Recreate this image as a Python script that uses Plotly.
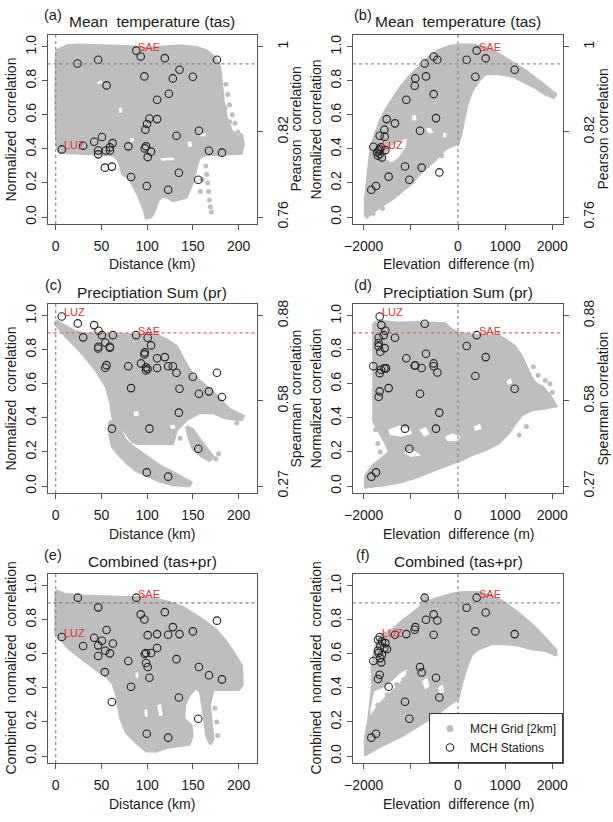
import plotly.graph_objects as go

W, H = 613, 822
GREY = "#BEBEBE"
RED = "#e0342f"
AXC = "#555555"
TXT = "#1a1a1a"
FONT = "Liberation Sans, Arial, Helvetica, sans-serif"

# ---------------- tick labels ----------------
Y_TICKS = [0.0, 0.2, 0.4, 0.6, 0.8, 1.0]
Y_TICKTEXT = ["0.0", "0.2", "0.4", "0.6", "0.8", "1.0"]
DIST_TICKS = [0, 50, 100, 150, 200]
DIST_TICKTEXT = ["0", "50", "100", "150", "200"]
ELEV_TICKS = [-2000, -1000, 0, 1000, 2000]
ELEV_TICKTEXT = ["\u22122000", "", "0", "1000", "2000"]
RIGHT_TICKS = [0.0, 0.5, 1.0]
PEARSON_TICKTEXT = ["0.76", "0.82", "1"]
SPEARMAN_TICKTEXT = ["0.27", "0.58", "0.88"]

# ---------------- panel (a) ----------------
A_ST_X = [6.6, 23.8, 46.4, 55.6, 30.0, 42.0, 50.5, 62.2, 46.4, 46.4, 54.8, 59.2, 59.2, 53.7, 61.4, 79.3, 82.3,
          88.1, 92.9, 96.9, 98.0, 99.8, 102.4, 98.7, 97.3, 104.2, 100.5, 99.5, 110.8, 110.8, 119.2, 122.9,
          123.6, 128.0, 132.0, 134.6, 135.3, 149.9, 156.5, 155.8, 167.5, 176.2, 181.7]
A_ST_Y = [0.397, 0.902, 0.924, 0.773, 0.419, 0.442, 0.470, 0.434, 0.391, 0.368, 0.391, 0.391, 0.409, 0.290,
          0.296, 0.415, 0.235, 0.977, 0.943, 0.826, 0.513, 0.546, 0.579, 0.415, 0.403, 0.384, 0.352, 0.182,
          0.689, 0.575, 0.933, 0.160, 0.724, 0.814, 0.477, 0.260, 0.865, 0.824, 0.507, 0.219, 0.389, 0.924, 0.378]
A_GRID_X = [0.7, 5.5, 12.8, 25.6, 62, 84, 98.7, 110, 135, 153.6, 164.5, 173.7, 179, 181, 183, 186.5, 192, 199,
            203, 205, 203, 186, 164.5, 157, 153.6, 150, 146, 142.6, 135, 128, 122.5, 117, 111.5, 108, 104,
            98.7, 97, 93, 89.6, 84, 78.6, 73, 71, 67.6, 62, 44, 25.6, 11, 3.7, 1.8, 0.7, 0, 0]
A_GRID_Y = [0.977, 0.99, 1.006, 1.01, 1.006, 1.0, 0.99, 0.996, 1.006, 0.996, 0.977, 0.937, 0.888, 0.8, 0.683,
            0.585, 0.507, 0.468, 0.487, 0.43, 0.374, 0.37, 0.366, 0.35, 0.29, 0.21, 0.155, 0.115, 0.106, 0.096,
            0.115, 0.125, 0.096, 0.037, 0.0, -0.006, 0.037, 0.096, 0.135, 0.194, 0.233, 0.252, 0.30, 0.34,
            0.366, 0.37, 0.374, 0.38, 0.38, 0.41, 0.487, 0.683, 0.879]
A_HOLES = [([45, 50, 51, 46], [0.795, 0.80, 0.785, 0.78]),
           ([69, 72, 72.5, 69.5], [0.64, 0.645, 0.615, 0.61]),
           ([114, 128, 130, 116], [0.345, 0.35, 0.335, 0.33]),
           ([144, 148, 149, 145], [0.44, 0.445, 0.415, 0.41]),
           ([157, 164, 164, 158], [0.49, 0.49, 0.475, 0.475]),
           ([81, 85, 85.5, 81.5], [0.46, 0.465, 0.445, 0.44])]
A_STRAY_X = [186, 188, 190, 193, 196, 199, 201, 190, 185, 164, 165, 166, 167, 168, 169, 170, 160, 158]
A_STRAY_Y = [0.78, 0.72, 0.66, 0.6, 0.55, 0.5, 0.45, 0.56, 0.64, 0.3, 0.25, 0.2, 0.15, 0.1, 0.06, 0.03, 0.22, 0.15]
A_LUZ = (6.6, 0.397)
A_SAE = (88.1, 0.977)

# ---------------- panel (b) ----------------
B_ST_X = [-1661, -1796, -1661, -1562, -1555, -1513, -1336, -1683, -1661, -1612, -1633, -1541, -1718, -1697,
          -1838, -1739, -1471, -1124, -1032, -1096, -919, -905, -679, -707, -806, -771, -516, -438, -516,
          -467, -396, 184, 396, 368, 587, 1202]
B_ST_Y = [0.397, 0.413, 0.477, 0.513, 0.472, 0.575, 0.550, 0.389, 0.370, 0.350, 0.409, 0.393, 0.380, 0.360,
          0.160, 0.182, 0.237, 0.297, 0.219, 0.689, 0.771, 0.814, 0.826, 0.902, 0.507, 0.290, 0.943, 0.924,
          0.722, 0.581, 0.262, 0.924, 0.977, 0.824, 0.932, 0.865]
B_GRID_X = [-1965, -1965, -1930, -1895, -1860, -1824, -1753, -1647, -1541, -1400, -1223, -1046, -834, -622,
            -410, -198, 14, 297, 580, 862, 1145, 1428, 1711, 1923, 2064,
            2029, 1852, 1640, 1428, 1216, 1004, 792, 580, 438, 297, 191, 120, 49, 0, -127, -269, -410, -551,
            -693, -834, -976, -1188, -1400, -1612, -1824, -1930]
B_GRID_Y = [0.008, 0.096, 0.194, 0.29, 0.37, 0.43, 0.487, 0.566, 0.624, 0.683, 0.761, 0.82, 0.879, 0.937,
            0.977, 1.0, 1.01, 1.01, 0.996, 0.957, 0.908, 0.859, 0.8, 0.751, 0.722,
            0.703, 0.722, 0.761, 0.79, 0.82, 0.836, 0.843, 0.84, 0.8, 0.742, 0.663, 0.566, 0.468, 0.43, 0.419,
            0.4, 0.36, 0.32, 0.29, 0.25, 0.2, 0.155, 0.106, 0.067, 0.027, 0.0]
B_HOLES = [([-1540, -1400, -1220, -1080, -1120, -1260, -1400, -1530], [0.37, 0.42, 0.45, 0.46, 0.41, 0.35, 0.32, 0.34]),
           ([-980, -900, -880, -960], [0.595, 0.60, 0.57, 0.565]),
           ([-680, -580, -520, -620], [0.52, 0.525, 0.495, 0.49]),
           ([-320, -250, -240, -310], [0.49, 0.495, 0.47, 0.465])]
B_STRAY_X = [-800, -650, -500, -350, -1000, -1300, -1700, -1600, 2050, 1950, -1800]
B_STRAY_Y = [0.33, 0.30, 0.34, 0.36, 0.27, 0.20, 0.10, 0.05, 0.72, 0.73, 0.02]
B_LUZ = (-1661, 0.397)
B_SAE = (396, 0.977)

# ---------------- panel (c) ----------------
C_ST_X = [6.6, 24.1, 42.0, 46.8, 50.5, 62.5, 30.0, 54.1, 46.4, 46.4, 59.2, 59.2, 55.6, 54.1, 87.8, 100.5,
          104.2, 97.3, 96.9, 79.3, 93.2, 98.7, 98.7, 100.5, 110.8, 119.2, 110.8, 122.9, 128.0, 132.0, 82.3,
          135.3, 149.9, 156.5, 167.5, 176.2, 181.7, 134.6, 61.4, 102.4, 155.8, 99.5, 122.9]
C_ST_Y = [0.996, 0.955, 0.945, 0.912, 0.886, 0.886, 0.873, 0.843, 0.818, 0.808, 0.818, 0.812, 0.710, 0.695,
          0.886, 0.871, 0.826, 0.785, 0.773, 0.703, 0.720, 0.697, 0.679, 0.687, 0.750, 0.757, 0.693, 0.703,
          0.703, 0.665, 0.575, 0.571, 0.642, 0.542, 0.556, 0.665, 0.523, 0.431, 0.337, 0.337, 0.219, 0.080, 0.055]
C_GRID_X = [0, 10, 20, 30, 60, 90, 110, 121, 132, 137, 143, 150, 161, 172, 179, 190, 205, 203, 186, 172, 157,
            143, 132, 128, 110, 90, 84, 77, 70, 64, 62, 60, 55, 44, 29, 11, 0]
C_GRID_Y = [0.97, 0.94, 0.91, 0.895, 0.89, 0.888, 0.885, 0.86, 0.82, 0.77, 0.71, 0.65, 0.60, 0.55, 0.51, 0.45,
            0.41, 0.39, 0.40, 0.43, 0.43, 0.39, 0.33, 0.25, 0.25, 0.25, 0.26, 0.31, 0.35, 0.38, 0.41, 0.49,
            0.585, 0.68, 0.78, 0.88, 0.95]
C_LOBE_X = [59, 66, 70, 76, 82, 90, 100, 113, 128, 142, 148, 146, 128, 113, 100, 88, 77, 68, 62, 59]
C_LOBE_Y = [0.38, 0.37, 0.33, 0.27, 0.24, 0.21, 0.17, 0.12, 0.08, 0.04, 0.02, 0.0, 0.008, 0.03, 0.06, 0.09,
            0.14, 0.19, 0.23, 0.30]
C_ISLAND_X = [143, 150, 158, 165, 172, 168, 158, 150, 146]
C_ISLAND_Y = [0.35, 0.33, 0.27, 0.22, 0.17, 0.15, 0.18, 0.22, 0.28]
C_HOLES = [([85, 90, 91, 86], [0.435, 0.44, 0.415, 0.41]),
           ([125, 130, 131, 126], [0.355, 0.36, 0.34, 0.335])]
C_STRAY_X = [136, 175, 178, 198]
C_STRAY_Y = [0.28, 0.16, 0.19, 0.37]
C_LUZ = (6.6, 0.996)
C_SAE = (87.8, 0.886)

# ---------------- panel (d) ----------------
D_ST_X = [-1661, -1626, -1541, -1577, -1683, -1683, -1683, -1647, -1555, -1336, -707, -1796, -1661, -1633,
          -1562, -1527, -1471, -1661, -1683, -1096, -919, -905, -771, -679, -516, -516, -438, -806, -396,
          -1124, -467, -1032, -1838, -1739, 184, 396, 587, 368, 1202]
D_ST_Y = [0.996, 0.945, 0.912, 0.886, 0.871, 0.840, 0.820, 0.789, 0.810, 0.871, 0.953, 0.703, 0.663, 0.683,
          0.691, 0.691, 0.575, 0.556, 0.524, 0.750, 0.708, 0.708, 0.693, 0.777, 0.720, 0.703, 0.667, 0.542,
          0.431, 0.337, 0.337, 0.219, 0.055, 0.080, 0.822, 0.886, 0.757, 0.646, 0.571]
D_GRID_X = [-1789, -1683, -1300, -900, -600, -269, -150, 0, 300, 600, 862, 1000, 1200, 1350, 1450, 1550, 1650,
            1800, 1950, 2079, 1852, 1570, 1357, 1216, 1075, 862, 580, 297, 85, -127, -481, -834, -1188,
            -1541, -1965, -1965, -1824, -1612, -1450, -1550, -1700, -1789]
D_GRID_Y = [0.957, 0.967, 0.957, 0.96, 0.957, 0.953, 0.92, 0.9, 0.885, 0.883, 0.879, 0.86, 0.82, 0.76, 0.70,
            0.64, 0.60, 0.58, 0.53, 0.47, 0.458, 0.448, 0.419, 0.37, 0.311, 0.252, 0.213, 0.184, 0.155, 0.135,
            0.096, 0.057, 0.027, 0.008, -0.006, 0.057, 0.115, 0.164, 0.20, 0.26, 0.33, 0.38]
D_HOLES = [([-1480, -1250, -1000, -980, -1200, -1440], [0.33, 0.355, 0.33, 0.305, 0.29, 0.30]),
           ([-820, -680, -600, -720], [0.33, 0.345, 0.305, 0.29]),
           ([-280, -120, 60, -20, -230], [0.29, 0.31, 0.29, 0.265, 0.265]),
           ([-1150, -950, -780, -1000], [0.195, 0.21, 0.18, 0.17]),
           ([1030, 1120, 1150, 1060], [0.615, 0.635, 0.605, 0.595]),
           ([330, 470, 500, 360], [0.35, 0.365, 0.335, 0.325])]
D_STRAY_X = [1700, 1850, 2000, 1950, 1600, -1700, -1600, -1750, -1650, 1300, 1450]
D_STRAY_Y = [0.65, 0.62, 0.55, 0.60, 0.70, 0.25, 0.30, 0.33, 0.20, 0.30, 0.35]
D_LUZ = (-1661, 0.996)
D_SAE = (396, 0.886)

# ---------------- panel (e) ----------------
E_ST_X = [6.6, 24.1, 46.4, 30.0, 42.0, 50.5, 55.6, 46.4, 46.4, 54.1, 59.2, 62.5, 53.7, 61.4, 79.3, 82.3, 88.1,
          92.9, 96.9, 100.5, 110.8, 119.2, 97.3, 98.7, 104.2, 98.7, 100.5, 102.4, 110.8, 122.9, 128.0, 135.3,
          132.0, 149.9, 156.5, 167.5, 181.7, 176.2, 134.6, 155.8, 99.5, 122.9]
E_ST_Y = [0.699, 0.930, 0.873, 0.646, 0.695, 0.677, 0.740, 0.650, 0.587, 0.618, 0.603, 0.661, 0.493, 0.317,
          0.558, 0.407, 0.930, 0.832, 0.802, 0.710, 0.716, 0.845, 0.599, 0.605, 0.605, 0.546, 0.523, 0.460,
          0.634, 0.712, 0.757, 0.716, 0.569, 0.732, 0.523, 0.474, 0.450, 0.795, 0.344, 0.219, 0.131, 0.108]
E_GRID_X = [0, 10, 30, 60, 85, 95, 110, 125, 140, 152, 163, 175, 185, 195, 203, 204, 200, 185, 172, 168, 170,
            172, 169, 165, 162, 158, 153, 146, 141, 140, 148, 149, 146, 135, 121, 110, 99, 88, 77, 71, 68, 66,
            62, 55, 44, 29, 14.6, 0]
E_GRID_Y = [0.97, 0.95, 0.94, 0.935, 0.93, 0.935, 0.92, 0.9, 0.87, 0.83, 0.79, 0.74, 0.68, 0.6, 0.53, 0.42,
            0.39, 0.39, 0.39, 0.3, 0.2, 0.1, 0.07, 0.12, 0.25, 0.38, 0.40, 0.36, 0.3, 0.22, 0.18, 0.12, 0.07,
            0.06, 0.05, 0.03, 0.03, 0.08, 0.14, 0.22, 0.3, 0.37, 0.43, 0.47, 0.51, 0.57, 0.63, 0.72]
E_HOLES = [([111, 115, 117, 113], [0.30, 0.305, 0.24, 0.235]),
           ([87, 90, 90.5, 87.5], [0.49, 0.49, 0.46, 0.46]),
           ([97, 100, 100.5, 97.5], [0.27, 0.275, 0.23, 0.23])]
E_STRAY_X = [186, 190, 194, 176, 174, 180, 177]
E_STRAY_Y = [0.56, 0.53, 0.50, 0.20, 0.28, 0.45, 0.12]
E_LUZ = (6.6, 0.699)
E_SAE = (88.1, 0.930)

# ---------------- panel (f) ----------------
F_ST_X = [-1661, -1697, -1612, -1541, -1647, -1562, -1697, -1683, -1612, -1506, -1796, -1647, -1626, -1661,
          -1697, -1471, -1336, -1096, -919, -905, -707, -679, -516, -438, -516, -806, -771, -467, -396, -1124,
          -1032, -1838, -1739, 184, 396, 587, 368, 1202]
F_ST_Y = [0.699, 0.683, 0.673, 0.663, 0.648, 0.634, 0.618, 0.605, 0.595, 0.628, 0.558, 0.575, 0.550, 0.477,
          0.452, 0.407, 0.712, 0.716, 0.742, 0.757, 0.930, 0.800, 0.832, 0.796, 0.712, 0.523, 0.491, 0.460,
          0.344, 0.319, 0.219, 0.108, 0.131, 0.871, 0.930, 0.843, 0.732, 0.716]
F_GRID_X = [-1965, -1965, -1930, -1890, -1850, -1810, -1824, -1789, -1718, -1612, -1400, -1188, -905, -780,
            -720, -622, -339, -127, 85, 438, 721, 1004, 1287, 1570, 1852, 2079,
            2029, 1852, 1570, 1287, 1004, 721, 438, 297, 191, 85, 0, -198, -481, -834, -1188, -1612, -1965]
F_GRID_Y = [0.0, 0.1, 0.16, 0.22, 0.32, 0.416, 0.51, 0.59, 0.67, 0.71, 0.74, 0.79, 0.85, 0.88, 0.95, 0.91,
            0.935, 0.95, 0.96, 0.96, 0.94, 0.896, 0.837, 0.77, 0.69, 0.62,
            0.60, 0.62, 0.63, 0.65, 0.66, 0.66, 0.63, 0.60, 0.533, 0.435, 0.337, 0.30, 0.24, 0.18, 0.12, 0.063,
            0.008]
F_HOLES = [([-1860, -1780, -1600, -1400, -1200, -1080, -1120, -1300, -1500, -1680, -1860],
            [0.27, 0.38, 0.40, 0.44, 0.49, 0.51, 0.47, 0.41, 0.36, 0.31, 0.24]),
           ([-760, -660, -600, -700], [0.44, 0.46, 0.41, 0.39]),
           ([-430, -330, -290, -390], [0.40, 0.42, 0.38, 0.365])]
F_STRAY_X = [2060, -1500, -1300, -1150, -1700]
F_STRAY_Y = [0.60, 0.36, 0.42, 0.45, 0.30]
F_LUZ = (-1661, 0.699)
F_SAE = (396, 0.930)

# ---------------- geometry ----------------
COL_DOM = [[47.5 / W, 257 / W], [353 / W, 563 / W]]
ROW_PX = [(35, 224), (304, 493), (574, 763)]
ROW_DOM = [[1 - b / H, 1 - t / H] for t, b in ROW_PX]
DIST_RANGE = [-9.0, 220.0]
ELEV_RANGE = [-2227, 2227]
Y_RANGE = [-0.041, 1.069]

panels = [
    dict(grid=[(A_GRID_X, A_GRID_Y)], holes=A_HOLES, stray=(A_STRAY_X, A_STRAY_Y), st=(A_ST_X, A_ST_Y),
         luz=A_LUZ, sae=A_SAE, kind="dist", right=PEARSON_TICKTEXT, letter="(a)",
         title="Mean  temperature (tas)", ytitle="Normalized  correlation", rtitle="Pearson  correlation",
         hcol="#8c8080"),
    dict(grid=[(B_GRID_X, B_GRID_Y)], holes=B_HOLES, stray=(B_STRAY_X, B_STRAY_Y), st=(B_ST_X, B_ST_Y),
         luz=B_LUZ, sae=B_SAE, kind="elev", right=PEARSON_TICKTEXT, letter="(b)",
         title="Mean  temperature (tas)", ytitle="Normalized correlation", rtitle="Pearson correlation",
         hcol="#b08484"),
    dict(grid=[(C_GRID_X, C_GRID_Y), (C_LOBE_X, C_LOBE_Y), (C_ISLAND_X, C_ISLAND_Y)], holes=C_HOLES,
         stray=(C_STRAY_X, C_STRAY_Y), st=(C_ST_X, C_ST_Y), luz=C_LUZ, sae=C_SAE, kind="dist",
         right=SPEARMAN_TICKTEXT, letter="(c)", title="Preciptiation Sum (pr)",
         ytitle="Normalized  correlation", rtitle="Spearman  correlation", hcol="#d86a6a"),
    dict(grid=[(D_GRID_X, D_GRID_Y)], holes=D_HOLES, stray=(D_STRAY_X, D_STRAY_Y), st=(D_ST_X, D_ST_Y),
         luz=D_LUZ, sae=D_SAE, kind="elev", right=SPEARMAN_TICKTEXT, letter="(d)",
         title="Preciptiation Sum (pr)", ytitle="Normalized correlation", rtitle="Spearman correlation",
         hcol="#d86a6a"),
    dict(grid=[(E_GRID_X, E_GRID_Y)], holes=E_HOLES, stray=(E_STRAY_X, E_STRAY_Y), st=(E_ST_X, E_ST_Y),
         luz=E_LUZ, sae=E_SAE, kind="dist", right=None, letter="(e)", title="Combined (tas+pr)",
         ytitle="Combined  normalized  correlation", rtitle=None, hcol="#7a7a7a"),
    dict(grid=[(F_GRID_X, F_GRID_Y)], holes=F_HOLES, stray=(F_STRAY_X, F_STRAY_Y), st=(F_ST_X, F_ST_Y),
         luz=F_LUZ, sae=F_SAE, kind="elev", right=None, letter="(f)", title="Combined (tas+pr)",
         ytitle="Combined  normalized  correlation", rtitle=None, hcol="#a08a8a"),
]


def sfx(n):
    return "" if n == 1 else str(n)


def p2x(px):
    return px / W


def p2y(py):
    return 1 - py / H


fig = go.Figure()
layout = dict(width=W, height=H, margin=dict(l=0, r=0, t=0, b=0), paper_bgcolor="white",
              plot_bgcolor="white", font=dict(family=FONT, size=14, color=TXT), showlegend=True)
annotations = []
shapes = []
right_id = 7

for i, p in enumerate(panels, start=1):
    col = (i - 1) % 2
    row = (i - 1) // 2
    xa, ya = "x" + sfx(i), "y" + sfx(i)
    for gx, gy in p["grid"]:
        fig.add_trace(go.Scatter(x=gx + [gx[0]], y=gy + [gy[0]], mode="lines", fill="toself",
                                 fillcolor=GREY, line=dict(color=GREY, width=3), hoverinfo="skip",
                                 showlegend=False, xaxis=xa, yaxis=ya))
    for hx, hy in p["holes"]:
        fig.add_trace(go.Scatter(x=hx + [hx[0]], y=hy + [hy[0]], mode="lines", fill="toself",
                                 fillcolor="white", line=dict(color="white", width=0), hoverinfo="skip",
                                 showlegend=False, xaxis=xa, yaxis=ya))
    sx, sy = p["stray"]
    fig.add_trace(go.Scatter(x=sx, y=sy, mode="markers", marker=dict(color=GREY, size=5),
                             hoverinfo="skip", showlegend=False, xaxis=xa, yaxis=ya))
    stx, sty = p["st"]
    fig.add_trace(go.Scatter(x=stx, y=sty, mode="markers",
                             marker=dict(symbol="circle-open", color="#222222", size=7.5,
                                         line=dict(width=1.1, color="#222222")),
                             hoverinfo="skip", showlegend=False, xaxis=xa, yaxis=ya))

    dist = p["kind"] == "dist"
    layout["xaxis" + sfx(i)] = dict(
        domain=COL_DOM[col], anchor=ya, range=DIST_RANGE if dist else ELEV_RANGE,
        tickmode="array", tickvals=DIST_TICKS if dist else ELEV_TICKS,
        ticktext=DIST_TICKTEXT if dist else ELEV_TICKTEXT,
        ticks="outside", ticklen=5, tickcolor=AXC, showline=True, mirror=True, linecolor=AXC,
        linewidth=1, showgrid=False, zeroline=False, tickfont=dict(size=14, color=TXT), automargin=False,
        ticklabelstandoff=4)
    layout["yaxis" + sfx(i)] = dict(
        domain=ROW_DOM[row], anchor=xa, range=Y_RANGE, tickmode="array", tickvals=Y_TICKS,
        ticktext=Y_TICKTEXT, tickangle=-90, ticks="outside", ticklen=5, tickcolor=AXC, showline=True,
        mirror=True, linecolor=AXC, linewidth=1, showgrid=False, zeroline=False,
        tickfont=dict(size=14, color=TXT), automargin=False)

    if p["right"] is not None:
        rid = "y" + str(right_id)
        fig.add_trace(go.Scatter(x=[None], y=[None], mode="markers", showlegend=False, hoverinfo="skip",
                                 xaxis=xa, yaxis=rid))
        layout["yaxis" + str(right_id)] = dict(
            overlaying=ya, side="right", anchor=xa, range=Y_RANGE, tickmode="array", tickvals=RIGHT_TICKS,
            ticktext=p["right"], tickangle=-90, ticks="outside", ticklen=5, tickcolor=AXC, showline=False,
            showgrid=False, zeroline=False, tickfont=dict(size=14, color=TXT), automargin=False,
            ticklabelstandoff=8)
        right_id += 1

    shapes.append(dict(type="line", xref=xa, yref=ya + " domain", x0=0, x1=0, y0=0, y1=1, layer="above",
                       line=dict(color="#8a8a8a", width=1.2, dash="dot")))
    shapes.append(dict(type="line", xref=xa + " domain", yref=ya, x0=0, x1=1, y0=0.9, y1=0.9, layer="above",
                       line=dict(color=p["hcol"], width=1.2, dash="dot")))

    for name, (lx, ly) in (("LUZ", p["luz"]), ("SAE", p["sae"])):
        annotations.append(dict(x=lx, y=ly, xref=xa, yref=ya, text=name, showarrow=False, xanchor="left",
                                yanchor="middle", xshift=0, yshift=4, font=dict(size=11, color=RED)))

    x0, x1 = COL_DOM[col][0] * W, COL_DOM[col][1] * W
    t, b = ROW_PX[row]
    cx = (x0 + x1) / 2
    cy = (t + b) / 2
    title_y = [22, 292, 561][row]
    letter_y = [15, 285, 555][row]
    letter_x = [53, 363][col]
    xt_y = [264, 534, 804][row]
    annotations.append(dict(x=p2x(cx), y=p2y(title_y), xref="paper", yref="paper", text=p["title"],
                            showarrow=False, xanchor="center", yanchor="middle", font=dict(size=15.5)))
    annotations.append(dict(x=p2x(letter_x), y=p2y(letter_y), xref="paper", yref="paper", text=p["letter"],
                            showarrow=False, xanchor="center", yanchor="middle", font=dict(size=14.5)))
    annotations.append(dict(x=p2x(cx), y=p2y(xt_y), xref="paper", yref="paper",
                            text="Distance (km)" if dist else "Elevation  difference (m)",
                            showarrow=False, xanchor="center", yanchor="middle", font=dict(size=14)))
    annotations.append(dict(x=p2x([10, 315][col]), y=p2y(cy), xref="paper", yref="paper", text=p["ytitle"],
                            textangle=-90, showarrow=False, xanchor="center", yanchor="middle",
                            font=dict(size=14)))
    if p["rtitle"]:
        annotations.append(dict(x=p2x([295, 602][col]), y=p2y(cy), xref="paper", yref="paper",
                                text=p["rtitle"], textangle=-90, showarrow=False, xanchor="center",
                                yanchor="middle", font=dict(size=14)))

fig.add_trace(go.Scatter(x=[None], y=[None], mode="markers", name="MCH Grid [2km]",
                         marker=dict(color=GREY, size=7), xaxis="x6", yaxis="y6"))
fig.add_trace(go.Scatter(x=[None], y=[None], mode="markers", name="MCH Stations",
                         marker=dict(symbol="circle-open", color="#222222", size=7.5,
                                     line=dict(width=1.1, color="#222222")), xaxis="x6", yaxis="y6"))

layout["legend"] = dict(x=563 / W, xanchor="right", y=1 - 763 / H, yanchor="bottom", bgcolor="white",
                        bordercolor="#333333", borderwidth=1, font=dict(size=12, color=TXT),
                        itemwidth=30, tracegroupgap=0)
layout["annotations"] = annotations
layout["shapes"] = shapes
fig.update_layout(**layout)
fig.write_html("out.html")
